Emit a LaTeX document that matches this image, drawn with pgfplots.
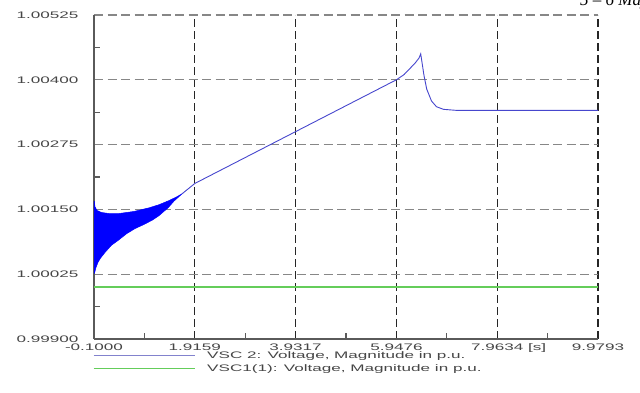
\documentclass[border=0pt]{standalone}
\usepackage{fontspec}
\usepackage{pgfplots}
\pgfplotsset{compat=1.18}
\newfontfamily\lab[FakeStretch=1.8]{Liberation Sans}
\newfontfamily\ser{Liberation Serif}
\definecolor{lineblue}{RGB}{70,70,205}
\definecolor{legblue}{RGB}{130,130,205}
\definecolor{oscblue}{RGB}{0,0,255}
\definecolor{vgreen}{RGB}{100,205,90}
\definecolor{txtgray}{RGB}{70,70,70}
\definecolor{axgray}{RGB}{90,90,90}
\definecolor{gridgray}{RGB}{135,135,135}
\begin{document}
\begin{tikzpicture}[x=1pt,y=1pt]
\useasboundingbox (0,0) rectangle (640,393);
\begin{scope}
\clip (0,0) rectangle (640,393);
\node[anchor=base west, font=\ser\itshape\fontsize{17}{18}\selectfont, inner sep=0pt] at (580,387) {5 – 6 May 2016};
\end{scope}
\begin{axis}[
  at={(94pt,54pt)}, anchor=south west,
  scale only axis, width=504pt, height=324pt,
  xmin=-0.1, xmax=9.9793, ymin=0.999, ymax=1.00525,
  axis x line=bottom, axis y line=left,
  axis line style={-, draw=axgray, line width=1.3pt},
  xtick={-0.1,1.9159,3.9317,5.9476,7.9634,9.9793},
  xticklabels={-0.1000,1.9159,3.9317,5.9476,7.9634,9.9793},
  ytick={0.999,1.00025,1.0015,1.00275,1.004,1.00525},
  yticklabels={0.99900,1.00025,1.00150,1.00275,1.00400,1.00525},
  minor xtick={0.9080,2.9238,4.9397,6.9555,8.9714},
  minor ytick={0.999625,1.000875,1.002125,1.003375,1.004625},
  extra x ticks={8.76}, extra x tick labels={[s]},
  extra x tick style={grid=none, major tick length=0pt},
  tick align=inside, major tick length=0pt, minor tick length=6pt,
  minor tick style={draw=axgray, line width=1.2pt},
  xmajorgrids, ymajorgrids,
  major x grid style={draw=black!85, line width=1.2pt, dash pattern=on 8pt off 4pt},
  major y grid style={draw=gridgray, line width=1.3pt, dash pattern=on 9pt off 4.5pt},
  ticklabel style={font=\lab\fontsize{9.5}{11}\selectfont, text=txtgray},
  xticklabel style={text height=7pt, text depth=2pt, yshift=-1pt},
  yticklabel style={xshift=-12pt},
  /pgf/number format/assume math mode=true,
  legend style={at={(0,0)}, anchor=north west, xshift=-1pt, yshift=-10pt,
    draw=none, fill=none, inner sep=0pt, row sep=0.3pt, column sep=10pt,
    nodes={font=\lab\fontsize{9.5}{11}\selectfont, text=txtgray, text height=7pt, text depth=2pt, inner sep=2pt}},
  legend cell align=left,
  legend image code/.code={\draw[#1] (0pt,0pt) -- (101pt,0pt);},
  clip=false,
]
% oscillating start of VSC 2 (envelope)
\addplot[draw=oscblue, fill=oscblue, line width=0.5pt, forget plot] coordinates {
(-0.1,1.00150) (-0.095,1.00166) (-0.08,1.00155) (-0.04,1.00148) (0.05,1.00144)
(0.2,1.00142) (0.4,1.00142) (0.7,1.00146) (1.0,1.00153) (1.2,1.00159)
(1.4,1.00167) (1.55,1.00174) (1.66,1.00180)
(1.5,1.00166) (1.38,1.00153) (1.2,1.00138) (1.06,1.00129) (0.9,1.00121)
(0.72,1.00113) (0.55,1.00103) (0.38,1.00090) (0.25,1.00081) (0.12,1.00067)
(0.03,1.00056) (-0.02,1.00048) (-0.06,1.00038) (-0.09,1.00027) (-0.1,1.00030)
};
% VSC 2 main line
\addplot[draw=lineblue, line width=0.9pt, forget plot] coordinates {
(1.66,1.00180) (1.9159,1.00200) (3.9317,1.00300) (5.9476,1.00400)
(6.10,1.00410) (6.22,1.00422) (6.32,1.00432) (6.40,1.00442) (6.434,1.00450)
(6.47,1.00427) (6.50,1.00408) (6.554,1.00382) (6.65,1.00359) (6.75,1.00348)
(6.89,1.00343) (7.15,1.00341) (9.9793,1.00341)
};
% VSC1(1)
\addplot[draw=vgreen, line width=1.6pt, forget plot] coordinates {
(-0.1,0.999999) (9.9793,0.999999)
};
\addlegendimage{draw=legblue, line width=1pt}
\addlegendentry{VSC 2: Voltage, Magnitude in p.u.}
\addlegendimage{draw=vgreen, line width=1pt}
\addlegendentry{VSC1(1): Voltage, Magnitude in p.u.}
\end{axis}
\end{tikzpicture}
\end{document}
